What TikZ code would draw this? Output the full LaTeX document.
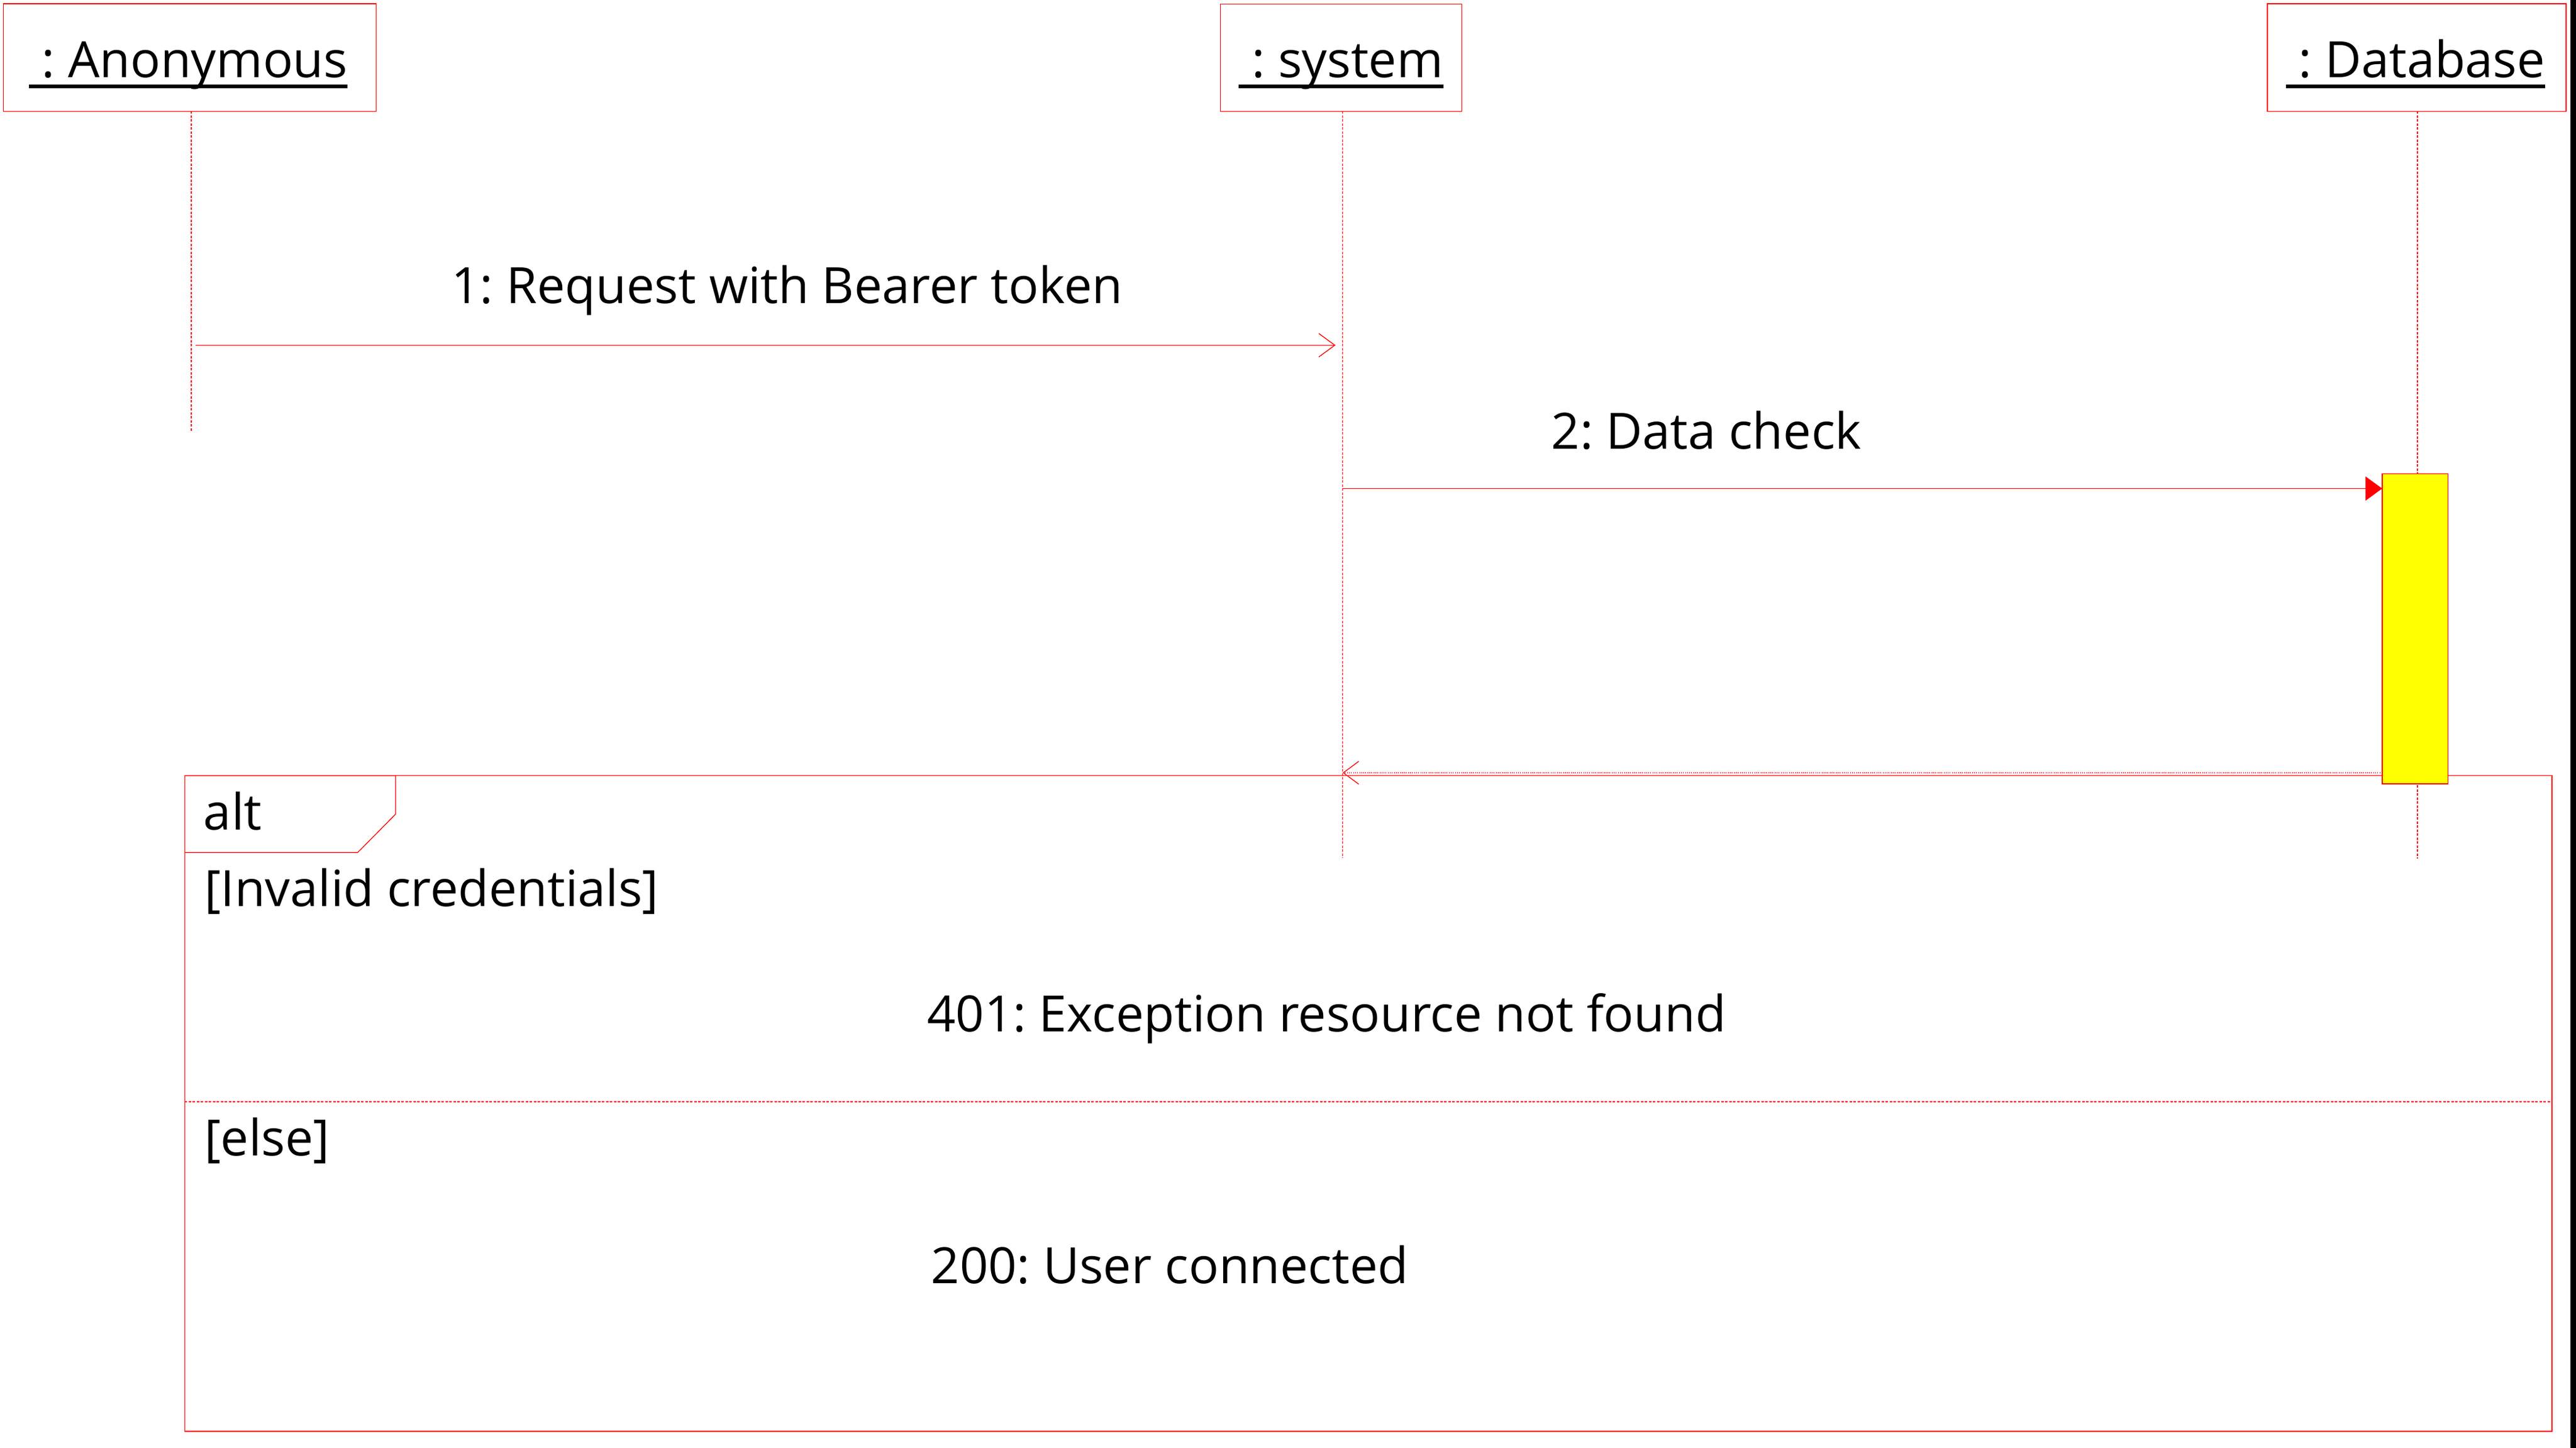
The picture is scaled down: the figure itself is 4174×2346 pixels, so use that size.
\documentclass[tikz,border=0pt]{standalone}
\usepackage{fontspec}
\setmainfont{Open Sans}
\usetikzlibrary{arrows.meta,calc}
\definecolor{umlred}{RGB}{255,0,0}
\definecolor{actyellow}{RGB}{255,255,0}
\frenchspacing
\begin{document}
\begin{tikzpicture}[x=0.1pt,y=-0.1pt,
  redline/.style={draw=umlred,line width=0.13pt},
  hdr/.style={redline, rectangle, inner sep=0pt, outer sep=0pt},
  lbl/.style={inner sep=0pt, outer sep=0pt, font=\fontsize{8.1pt}{9.7pt}\selectfont\frenchspacing, text=black},
  lifeline/.style={redline, dash pattern=on 0.4pt off 0.25pt},
  ulbar/.style={draw=black, line width=0.6pt},
  callmsg/.style={redline, -{Straight Barb[length=2.6pt,width=3.8pt]}},
  syncmsg/.style={redline, -{Triangle[length=2.7pt,width=3.9pt,fill=umlred]}},
  retmsg/.style={redline, dash pattern=on 0.1pt off 0.23pt, -{Straight Barb[length=2.5pt,width=3.7pt]}},
  actbox/.style={redline, fill=actyellow, rectangle, inner sep=0pt, outer sep=0pt},
  sepline/.style={redline, dash pattern=on 0.4pt off 0.25pt}
]
\fill[white] (0,0) rectangle (4174,2346);
\useasboundingbox (0,0) rectangle (4174,2346);
% right edge bar
\fill[black] (4165,0) rectangle (4174,2346);

% header boxes
\node[hdr, minimum width=60.36pt, minimum height=17.43pt] (anonbox) at (307.6,93.15) {};
\node[hdr, minimum width=39.1pt, minimum height=17.4pt] (sysbox) at (2172.8,93.3) {};
\node[hdr, minimum width=48.4pt, minimum height=17.43pt] (dbbox) at (3916,93.15) {};

\node[lbl, anchor=base] (anonT) at (305,125) {\ : Anonymous};
\node[lbl, anchor=base] (sysT) at (2173,125) {\ : system};
\node[lbl, anchor=base] (dbT) at (3914,125) {\ : Database};
\draw[ulbar] ($(anonT.base west)+(0,15)$) -- ($(anonT.base east)+(0,15)$);
\draw[ulbar] ($(sysT.base west)+(0,15)$) -- ($(sysT.base east)+(0,15)$);
\draw[ulbar] ($(dbT.base west)+(0,15)$) -- ($(dbT.base east)+(0,15)$);

% lifelines
\coordinate (anonTop) at (310,180.3);
\coordinate (anonEnd) at (310,700);
\coordinate (sysTop) at (2175.5,180.3);
\coordinate (sysEnd) at (2175.5,1390);
\coordinate (dbTop) at (3917,180.3);
\coordinate (dbEnd) at (3917,1391);
\draw[lifeline] (anonTop) -- (anonEnd);
\draw[lifeline] (sysTop) -- (sysEnd);
\draw[lifeline] (dbTop) -- (dbEnd);

% alt frame
\coordinate (frNW) at (299.4,1256.7);
\coordinate (frSE) at (4135,2319);
\draw[redline] (frNW) rectangle (frSE);
\draw[redline] (frNW) -- (641,1256.7) -- (641,1319) -- (579.5,1381.3) -- (299.4,1381.3);
\coordinate (sepL) at (299.4,1785);
\coordinate (sepR) at (4135,1785);
\draw[sepline] (sepL) -- (sepR);

% activation
\node[actbox, minimum width=10.67pt, minimum height=50.26pt] (act) at (3913.3,1018.7) {};

% message 1
\coordinate (m1s) at (317,559.3);
\coordinate (m1e) at (2164,559.3);
\draw[callmsg] (m1s) -- (m1e);
\node[lbl, anchor=base] (m1lbl) at (1275.5,491) {1: Request with Bearer token};

% message 2
\coordinate (m2s) at (2175.5,791.5);
\draw[syncmsg] (m2s) -- (m2s -| act.west);
\node[lbl, anchor=base] (m2lbl) at (2765,727) {2: Data check};

% return
\coordinate (r1) at (2175.5,1252);
\draw[retmsg] (r1 -| act.west) -- (r1);

% frame texts
\node[lbl, anchor=base west] (altT) at (330,1344) {alt};
\node[lbl, anchor=base west] (g1) at (331,1468) {[Invalid credentials]};
\node[lbl, anchor=base west] (g2) at (331,1872) {[else]};
\node[lbl, anchor=base] (r401) at (2149.5,1671) {401: Exception resource not found};
\node[lbl, anchor=base] (r200) at (1895.5,2079) {200: User connected};
\end{tikzpicture}
\end{document}
